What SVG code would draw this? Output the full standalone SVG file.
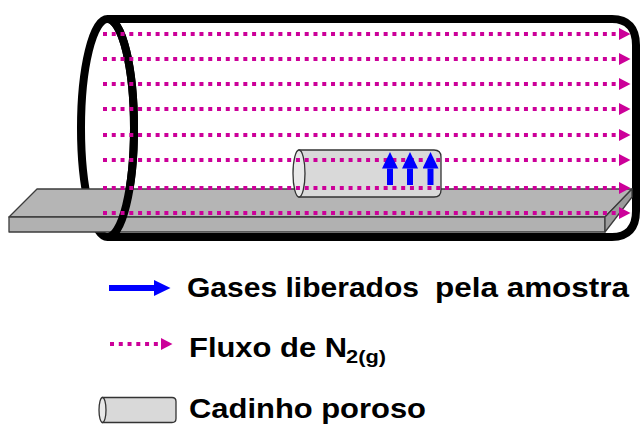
<svg xmlns="http://www.w3.org/2000/svg" width="642" height="425" viewBox="0 0 642 425">
  <style>
    .tube { fill: none; stroke: #000; stroke-width: 8; }
    .tray { stroke: #3c3c3c; stroke-width: 1.3; stroke-linejoin: round; }
    .crucible { fill: #d9d9d9; stroke: #333; stroke-width: 1.3; }
    .crucible-end { fill: #e8e8e8; stroke: #333; stroke-width: 1.3; }
    .flow { fill: none; stroke: #cc0099; stroke-width: 4; stroke-dasharray: 4 4.77; }
    .gas { fill: none; stroke: #0000ff; stroke-width: 6; }
    .label { font-family: "Liberation Sans", Arial, sans-serif; font-weight: bold; font-size: 28px; fill: #000; }
    .sub { font-size: 19px; }
  </style>
  <defs>
    <marker id="flowHead" markerUnits="userSpaceOnUse" markerWidth="12" markerHeight="13" refX="0" refY="6" orient="auto">
      <path d="M0,0 L11.5,6 L0,12 Z" fill="#cc0099"/>
    </marker>
    <marker id="gasHead" markerUnits="userSpaceOnUse" markerWidth="17" markerHeight="17" refX="0" refY="8" orient="auto">
      <path d="M0,0 L16.5,8 L0,16 Z" fill="#0000ff"/>
    </marker>
  </defs>

  <!-- furnace tube: rear opening ring and body -->
  <g id="tube">
    <ellipse class="tube" cx="107.5" cy="128" rx="26.5" ry="109"/>
    <path class="tube" d="M107.5,19 L612,19 C628,19 636,28 636,45 L636,211 C636,228 628,237 612,237 L107.5,237"/>
  </g>

  <!-- sample holder tray -->
  <g id="tray">
    <polygon class="tray" fill="#b5b5b5" points="37,189 632,189 605,217 9,217"/>
    <rect class="tray" fill="#b1b1b1" x="9" y="217" width="596" height="15"/>
    <polygon class="tray" fill="#9c9c9c" points="605,217 632,189 632,197 605,232"/>
  </g>

  <!-- front half of the opening ring, in front of the tray -->
  <g id="tube-front">
    <path class="tube" d="M107.5,19 A26.5,109 0 0 1 107.5,237"/>
  </g>

  <!-- porous crucible -->
  <g id="crucible">
    <path class="crucible" d="M299,150 H434 Q441,150 441,157 V190 Q441,197 434,197 H299 Z"/>
    <ellipse class="crucible-end" cx="299" cy="173.5" rx="6" ry="23.5"/>
  </g>

  <!-- nitrogen flow lines -->
  <g id="flow">
    <line class="flow" x1="103" y1="34" x2="619" y2="34" marker-end="url(#flowHead)"/>
    <line class="flow" x1="103" y1="59" x2="619" y2="59" marker-end="url(#flowHead)"/>
    <line class="flow" x1="103" y1="84" x2="619" y2="84" marker-end="url(#flowHead)"/>
    <line class="flow" x1="103" y1="109" x2="619" y2="109" marker-end="url(#flowHead)"/>
    <line class="flow" x1="103" y1="135" x2="619" y2="135" marker-end="url(#flowHead)"/>
    <line class="flow" x1="103" y1="160" x2="619" y2="160" marker-end="url(#flowHead)"/>
    <line class="flow" x1="103" y1="188" x2="619" y2="188" marker-end="url(#flowHead)"/>
    <line class="flow" x1="103" y1="213" x2="619" y2="213" marker-end="url(#flowHead)"/>
  </g>

  <!-- gases released by the sample -->
  <g id="gases">
    <line class="gas" x1="390" y1="185" x2="390" y2="168.5" marker-end="url(#gasHead)"/>
    <line class="gas" x1="410" y1="185" x2="410" y2="168.5" marker-end="url(#gasHead)"/>
    <line class="gas" x1="430.5" y1="185" x2="430.5" y2="168.5" marker-end="url(#gasHead)"/>
  </g>

  <!-- legend -->
  <g id="legend-gases">
    <line class="gas" x1="109" y1="288" x2="154" y2="288" marker-end="url(#gasHead)"/>
    <text class="label" x="187" y="297" textLength="232" lengthAdjust="spacingAndGlyphs">Gases liberados</text>
    <text class="label" x="435" y="297" textLength="194" lengthAdjust="spacingAndGlyphs">pela amostra</text>
  </g>
  <g id="legend-flow">
    <line class="flow" x1="110" y1="344" x2="161" y2="344" stroke-dasharray="4 3.5" marker-end="url(#flowHead)"/>
    <text class="label" x="189" y="357" textLength="158" lengthAdjust="spacingAndGlyphs">Fluxo de N</text>
    <text class="label sub" x="346" y="363" textLength="40" lengthAdjust="spacingAndGlyphs">2(g)</text>
  </g>
  <g id="legend-crucible">
    <path class="crucible" d="M102.5,397.5 H172 Q176,397.5 176,401.5 V418.5 Q176,422.5 172,422.5 H102.5 Z"/>
    <ellipse class="crucible-end" cx="102.5" cy="410" rx="3.5" ry="12.5"/>
    <text class="label" x="189" y="418" textLength="237" lengthAdjust="spacingAndGlyphs">Cadinho poroso</text>
  </g>
</svg>
